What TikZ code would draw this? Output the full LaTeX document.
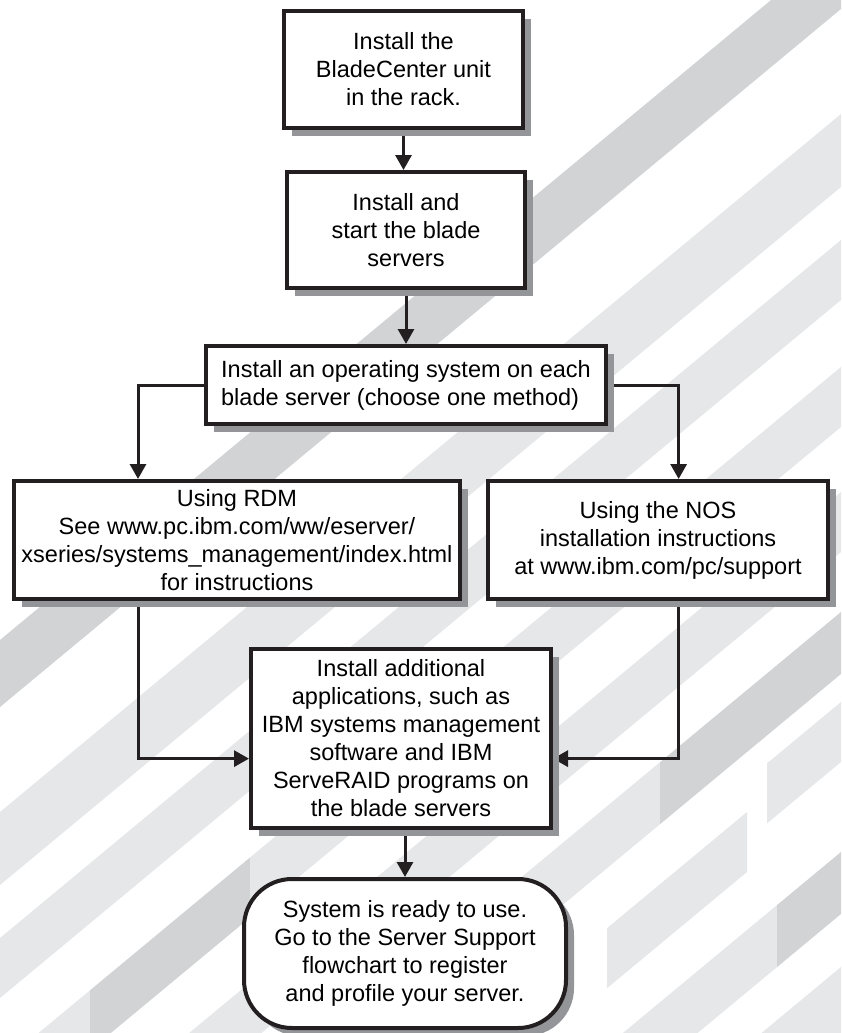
\documentclass[tikz,border=0pt]{standalone}
\usepackage{fontspec}
\setmainfont{Liberation Sans}
\usetikzlibrary{arrows.meta,shadows,calc}

\definecolor{ink}{HTML}{231F20}
\definecolor{shadowgray}{HTML}{939598}
\definecolor{stripedark}{HTML}{D1D3D4}
\definecolor{stripelight}{HTML}{E6E7E8}

\pgfdeclarelayer{stripes}
\pgfdeclarelayer{lines}
\pgfsetlayers{stripes,lines,main}

% one slanted band of the backdrop: edges s1, s2 (s = y + 0.83x), from x1 to x2
\newcommand\bgstripe[5]{%
  \fill[#5] (#3,{#1-0.83*#3}) -- (#4,{#1-0.83*#4}) -- (#4,{#2-0.83*#4}) -- (#3,{#2-0.83*#3}) -- cycle;}

\tikzset{
  stepbox/.style={draw=ink, line width=4pt, fill=white, align=center, inner sep=0pt,
    font=\fontsize{23.5}{28}\selectfont,
    drop shadow={shadow xshift=8pt, shadow yshift=-8pt, fill=shadowgray, opacity=1}},
  flow/.style={draw=ink, line width=3pt, -{Triangle[length=15pt,width=16pt]}},
}

\begin{document}
\begin{tikzpicture}[x=1pt, y=-1pt]
  \useasboundingbox (0,0) rectangle (841,1033);

  % backdrop
  \begin{pgfonlayer}{stripes}
    \begin{scope}
      \clip (0,0) rectangle (841,1033);
      \bgstripe{640}{707}{0}{841}{stripedark}
      \bgstripe{812}{885}{0}{841}{stripelight}
      \bgstripe{938}{998}{0}{841}{stripelight}
      \bgstripe{1065}{1125}{0}{90}{stripelight}
      \bgstripe{1065}{1125}{90}{250}{stripedark}
      \bgstripe{1065}{1125}{250}{841}{stripelight}
      \bgstripe{1190}{1250}{0}{841}{stripelight}
      \bgstripe{1310}{1372}{0}{660}{stripelight}
      \bgstripe{1310}{1372}{660}{841}{stripedark}
      \bgstripe{1432}{1492}{607}{747}{stripelight}
      \bgstripe{1400}{1460}{767}{841}{stripelight}
      \bgstripe{1550}{1612}{560}{777}{stripelight}
      \bgstripe{1550}{1612}{777}{841}{stripedark}
      \bgstripe{1665}{1731}{700}{841}{stripelight}
    \end{scope}
  \end{pgfonlayer}

  % steps
  \node[stepbox, minimum width=239pt, minimum height=117pt] (install) at (403.5,69.5)
    {Install the\\BladeCenter unit\\in the rack.};
  \node[stepbox, minimum width=238pt, minimum height=116pt] (blades) at (406,230)
    {Install and\\start the blade\\servers};
  \node[stepbox, align=left, minimum width=400pt, minimum height=78pt] (osinstall) at (406,385)
    {Install an operating system on each\\blade server (choose one method)};
  \node[stepbox, minimum width=446pt, minimum height=118pt] (rdm) at (237,540)
    {Using RDM\\See www.pc.ibm.com/ww/eserver/\\xseries/systems\_management/index.html\\for instructions};
  \node[stepbox, minimum width=340pt, minimum height=118pt] (nos) at (658,540)
    {Using the NOS\\installation instructions\\at www.ibm.com/pc/support};
  \node[stepbox, minimum width=300pt, minimum height=179pt] (apps) at (401,738.5)
    {Install additional\\applications, such as\\IBM systems management\\software and IBM\\ServeRAID programs on\\the blade servers};
  \node[stepbox, rounded corners=48pt, minimum width=322pt, minimum height=149pt] (ready) at (405,953.5)
    {System is ready to use.\\Go to the Server Support\\flowchart to register\\and profile your server.};

  % connectors
  \begin{pgfonlayer}{lines}
    \draw[flow] (install.south) -- (install.south |- blades.north);
    \draw[flow] (blades.south) -- (osinstall.north);
    \draw[flow] (osinstall.west) -| ($(rdm.north west)!0.28!(rdm.north east)$);
    \draw[flow] (osinstall.east) -| ($(nos.north west)!0.56!(nos.north east)$);
    \draw[flow] ($(rdm.south west)!0.28!(rdm.south east)$) |- ($(apps.north west)!0.61!(apps.south west)$);
    \draw[flow] ($(nos.south west)!0.56!(nos.south east)$) |- ($(apps.north east)!0.61!(apps.south east)$);
    \draw[flow] (apps.south -| ready.north) -- (ready.north);
  \end{pgfonlayer}
\end{tikzpicture}
\end{document}
